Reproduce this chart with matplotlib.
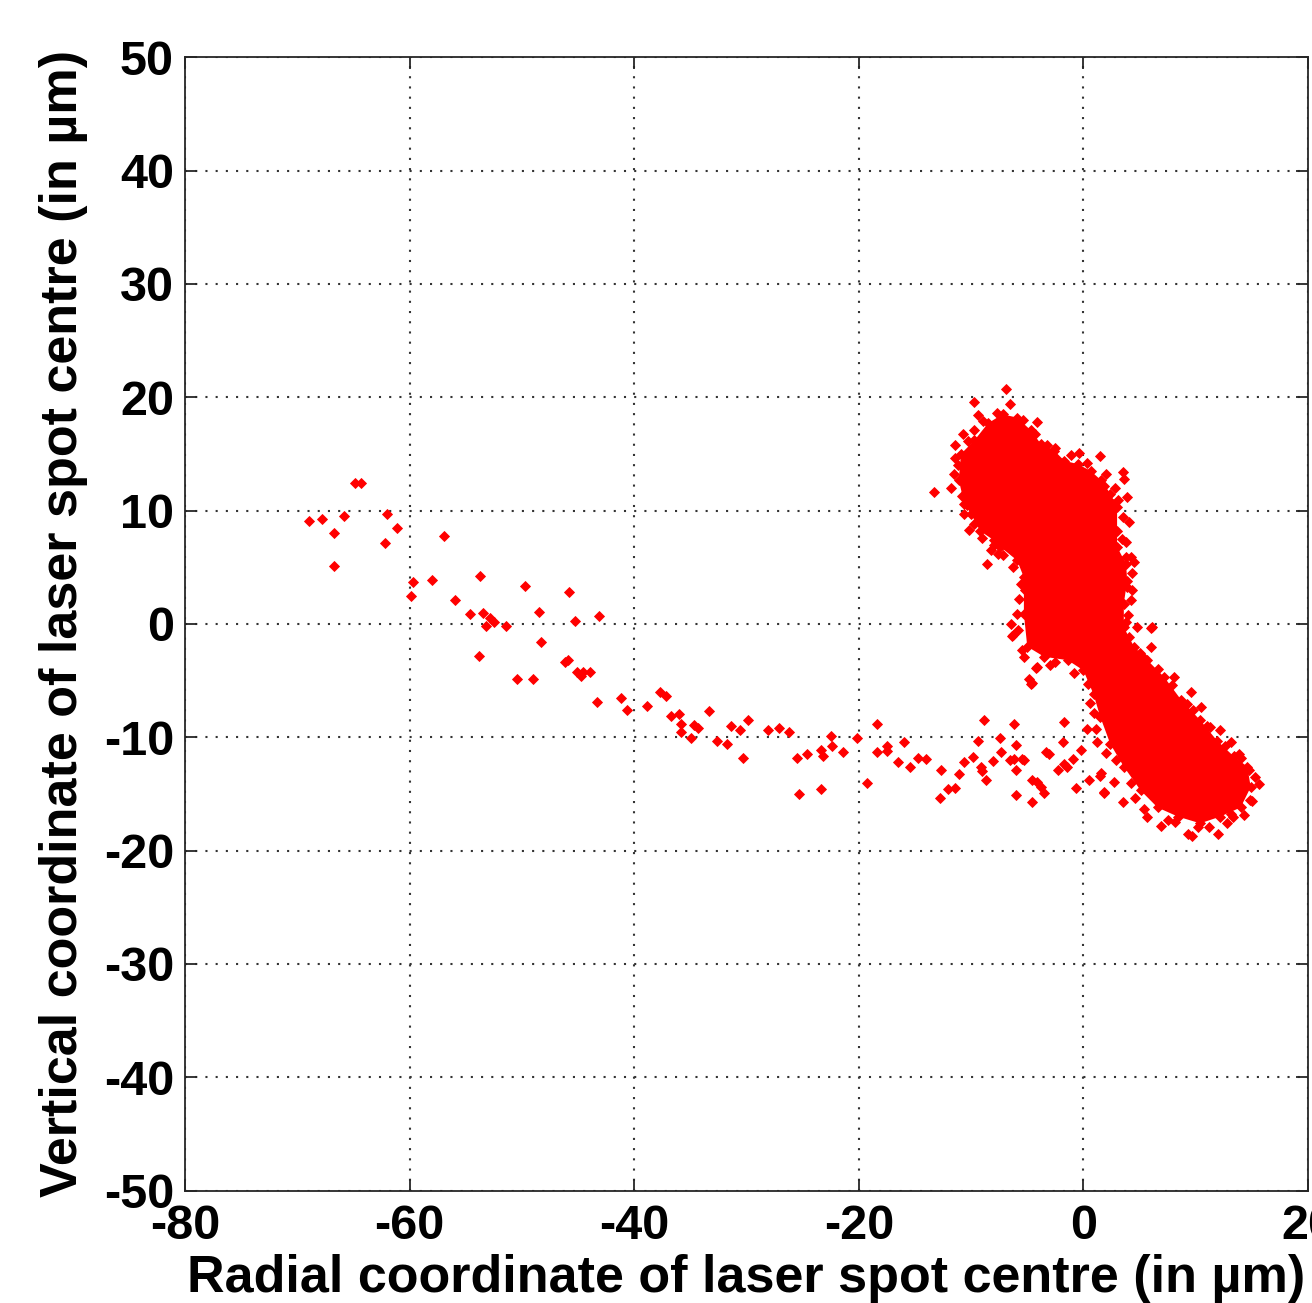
import matplotlib
matplotlib.use("Agg")
import matplotlib.pyplot as plt

# ---- data (in micrometres) ----
trail_x = [-69.0, -67.8, -66.7, -65.8, -66.7, -64.85, -64.35, -62.0, -61.1, -62.2, -56.9, -59.7, -59.9, -58.0,
           -56.0, -54.6, -53.7, -53.5, -52.8, -52.5, -53.2, -51.4, -53.8, -49.7, -48.5, -48.3, -50.4, -49.0,
           -45.8, -45.3, -43.1, -46.2, -45.9, -45.1, -44.6, -44.7, -43.9, -43.3, -41.2, -40.6, -38.9, -37.7,
           -37.2, -36.7, -36.0, -35.8, -35.8, -34.7, -34.35, -34.9, -33.3, -32.6, -31.7, -31.4, -30.6, -29.9,
           -30.3, -28.1, -27.1, -26.2, -25.5, -24.6, -23.35, -23.2, -22.5, -22.4, -21.4, -25.3, -23.35, -20.15,
           -18.4, -18.4, -17.5, -17.5, -16.0, -19.25, -16.5, -15.4, -14.7, -14.05, -12.7, -12.8, -12.1, -11.4,
           -11.05, -10.6, -9.8, -9.4, -9.15, -9.06, -8.86, -8.65, -8.06, -7.4, -7.3, -6.2, -6.0, -6.5, -6.2,
           -5.45, -5.3, -6.0, -6.0, -4.6, -4.6, -4.1, -3.75, -3.55, -3.3, -3.1, -2.3, -1.75, -1.5, -1.8, -1.75,
           -0.93, -0.7, -0.24, 0.5, -4.8, -4.6, -4.15, 0.35, 0.9, 1.45, 1.8, 1.25, 1.55, 1.85, 2.75, 3.5]
trail_y = [9.1, 9.3, 8.0, 9.5, 5.1, 12.4, 12.4, 9.7, 8.5, 7.1, 7.75, 3.7, 2.45, 3.9,
           2.1, 0.9, 4.2, 1.0, 0.55, 0.15, -0.2, -0.2, -2.85, 3.35, 1.05, -1.6, -4.85, -4.85,
           2.8, 0.3, 0.7, -3.35, -3.2, -4.25, -4.25, -4.6, -4.25, -6.9, -6.55, -7.6, -7.25, -6.0,
           -6.4, -8.15, -7.95, -8.8, -9.55, -8.95, -9.2, -10.1, -7.65, -10.3, -10.6, -9.0, -9.4, -8.5,
           -11.8, -9.4, -9.2, -9.55, -11.85, -11.5, -11.1, -11.7, -9.9, -10.8, -11.3, -15.05, -14.6, -10.1,
           -8.8, -11.3, -10.8, -11.2, -10.4, -14.0, -12.2, -12.65, -11.8, -11.95, -12.9, -15.4, -14.6, -14.5,
           -13.25, -12.2, -11.75, -10.3, -12.6, -13.0, -8.5, -13.8, -12.1, -10.1, -11.3, -8.8, -10.7, -12.05, -11.95,
           -11.9, -12.05, -12.9, -15.1, -15.7, -13.8, -13.95, -14.4, -14.9, -11.3, -11.5, -12.9, -12.4, -12.6, -10.4, -8.65,
           -11.9, -14.5, -11.1, -13.8, -4.85, -5.2, -3.8, -9.25, -7.9, -13.4, -14.9, -10.4, -13.2, -14.85, -13.95, -15.7]

# scattered points around the dense cluster
halo_x = [-6.9, -9.75, -6.5, -9.4, -4.1, -10.7, -9.75, -11.4, -13.3, -11.75, -2.5, -0.4, 1.5, 3.5, 3.6, 1.85,
          3.9, -10.6, -9.75, -10.35, -8.55, -8.25, 3.8, 3.8, 4.2, 4.5, 4.8, 6.0, -6.45, -6.3, -5.9, 3.9, 4.2,
          -6.4, -5.3, -4.25, -4.7, 3.8, 6.15, 6.0, 8.1, 9.55, 10.45, 12.2, 13.1, 14.75, 15.65, 14.3, 13.1,
          11.95, 10.2, 9.3, 9.7, 6.9, 5.7, 5.4, -8.0, -7.6, -5.2, -3.0, 2.6, 4.1, 5.2, 7.4, 11.0, 13.9, 15.0, 12.8, 8.2,
          -11.2, -11.5, -10.8, -10.2, -9.0, -7.2, -6.3, -5.6, -5.7, -5.8, -5.5, -2.5, -0.8, 0.4, 0.6, 1.1, 2.0,
          2.9, 4.2, 4.6, 7.5, 11.2, 13.3, 14.8, 15.3, 14.0, 12.6, 11.3, 9.8, 9.2, 7.9, 6.6, 5.0, 4.1, 4.0, 4.3,
          4.3, 3.4, 3.5, 3.1, 2.8, 2.0, 0.3, -1.1, -3.2, -4.3, -5.4, -7.7, -8.9, -10.3, -11.4]
halo_y = [20.7, 19.6, 19.4, 18.4, 17.8, 16.8, 17.1, 15.75, 11.6, 12.0, 15.5, 15.1, 14.8, 13.4, 12.8, 12.2,
          11.2, 9.7, 8.8, 10.45, 5.3, 6.5, 7.2, 5.9, 5.9, 5.45, -0.3, -0.35, 0.0, -1.0, 0.9, 3.25, 2.1,
          -1.1, -2.9, -3.85, -5.3, 0.15, -0.3, -2.05, -4.7, -6.0, -7.35, -9.4, -10.4, -12.9, -14.1, -16.9, -16.75,
          -18.5, -17.9, -18.5, -18.75, -17.8, -17.05, -16.3, 7.0, 6.2, 3.0, -3.6, 10.6, 9.0, -2.8, -5.8, -9.0, -11.5, -15.6, -17.6, -17.5,
          14.0, 13.2, 11.3, 8.3, 7.6, 6.1, 5.0, 3.5, 2.2, -0.5, -2.3, -3.4, -4.3, -5.3, -7.0, -9.3, -11.4,
          -12.0, -14.0, -15.4, -17.3, -17.9, -17.0, -15.5, -13.5, -11.8, -10.8, -9.1, -7.6, -7.1, -5.4, -4.0, -2.6, -1.2, 0.8, 3.0,
          4.5, 7.5, 9.4, 10.9, 12.0, 13.2, 14.2, 14.9, 15.8, 16.8, 18.0, 18.6, 17.9, 16.1, 14.6]

# outline of the solid (over-plotted) core of the cluster
core_x = [-7.2, -5.9, -4.7, -3.8, -2.6, -1.7, -0.5, 0.65, 1.55, 2.4, 3.0, 3.0, 3.0, 3.8, 3.9, 3.6, 3.6, 4.5,
          5.7, 7.2, 8.7, 10.4, 11.9, 13.4, 14.6, 14.9, 14.0, 12.2, 10.4, 8.4, 6.6, 5.1, 3.6, 2.4, 1.5, 0.9,
          0.0, -1.4, -3.5, -5.0, -5.3, -5.3, -5.9, -7.4, -8.0, -9.2, -10.0, -10.6, -11.1, -10.9, -9.7, -8.5]
core_y = [18.5, 18.2, 17.1, 15.9, 15.3, 14.4, 14.1, 13.5, 12.7, 11.5, 10.3, 8.2, 6.8, 5.3, 3.8, 1.8, -0.3, -2.0,
          -3.2, -4.7, -6.7, -8.5, -10.3, -11.7, -12.6, -14.4, -16.2, -17.0, -17.6, -17.0, -16.2, -14.7, -12.6, -10.6, -8.2, -6.2,
          -4.1, -3.2, -2.9, -2.0, 0.9, 4.1, 5.6, 6.8, 7.4, 8.2, 9.7, 10.6, 12.7, 15.0, 16.2, 17.7]

x_ticks = [-80, -60, -40, -20, 0, 20]
y_ticks = [-50, -40, -30, -20, -10, 0, 10, 20, 30, 40, 50]
x_label = "Radial coordinate of laser spot centre (in \u00b5m)"
y_label = "Vertical coordinate of laser spot centre (in \u00b5m)"

# ---- figure ----
plt.rcParams['font.family'] = ['Liberation Sans', 'DejaVu Sans']
plt.rcParams['font.weight'] = 'bold'

fig = plt.figure(figsize=(13.12, 13.03), dpi=100)
ax = fig.add_axes([185/1312, (1303-1190.5)/1303, (1308-185)/1312, (1190.5-57.3)/1303])

ax.set_xlim(-80, 20)
ax.set_ylim(-50, 50)
ax.set_xticks(x_ticks)
ax.set_yticks(y_ticks)
ax.set_xticklabels([str(v) for v in x_ticks])
ax.set_yticklabels([str(v) for v in y_ticks])

ax.grid(True, color='#333333', linestyle=(0, (1, 3.9)), linewidth=1.5)
ax.set_axisbelow(True)

red = '#ff0000'
ax.fill(core_x, core_y, color=red, lw=0, zorder=3)
mk = dict(linestyle='none', marker='D', markersize=5.4, markerfacecolor=red,
          markeredgecolor=red, markeredgewidth=0.6, zorder=4)
ax.plot(core_x, core_y, **mk)
ax.plot(halo_x, halo_y, **mk)
ax.plot(trail_x, trail_y, **mk)

for s in ax.spines.values():
    s.set_linewidth(1.3)
    s.set_color('#262626')
ax.tick_params(direction='in', length=8.4, width=1.3, color='#262626',
               top=True, right=True, labelsize=35)
ax.tick_params(axis='x', pad=10)
ax.tick_params(axis='y', pad=8)

ax.set_xlabel(x_label, fontsize=37.5, fontweight='bold', labelpad=3)
ax.set_ylabel(y_label, fontsize=37.5, fontweight='bold', labelpad=11)

fig.savefig('out.png', dpi=100)
